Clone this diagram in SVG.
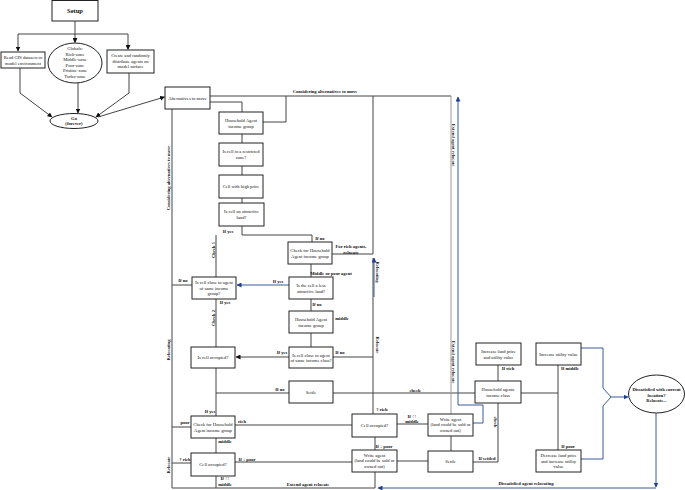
<svg xmlns="http://www.w3.org/2000/svg" width="685" height="490" viewBox="0 0 685 490">
<style>
.b{fill:#fff;stroke:#222;stroke-width:1}
.t{font-family:"Liberation Serif","Times New Roman",serif;font-size:4.6px;fill:#111;text-anchor:middle}
.l{font-family:"Liberation Serif","Times New Roman",serif;font-size:4.6px;font-weight:bold;fill:#111;text-anchor:middle}
.c{fill:none;stroke:#444;stroke-width:1}
.g{fill:none;stroke:#999;stroke-width:1}
.bl{fill:none;stroke:#3a5a9a;stroke-width:1}
</style>
<defs>
<marker id="a" viewBox="0 0 10 10" refX="9" refY="5" markerWidth="5" markerHeight="5" orient="auto"><path d="M0,0L10,5L0,10z" fill="#111"/></marker>
<marker id="ab" viewBox="0 0 10 10" refX="9" refY="5" markerWidth="5" markerHeight="5" orient="auto"><path d="M0,0L10,5L0,10z" fill="#1f3f8f"/></marker>
</defs>
<rect width="685" height="490" fill="#fff"/>
<g id="connectors">
<path class="c" d="M75,21V34M18,34H128"/>
<path class="c" d="M18,34V51" marker-end="url(#a)"/>
<path class="c" d="M75,34V42.5" marker-end="url(#a)"/>
<path class="c" d="M128,34V49.5" marker-end="url(#a)"/>
<path class="c" d="M20,68V93L52,117" marker-end="url(#a)"/>
<path class="c" d="M78,83V113" marker-end="url(#a)"/>
<path class="c" d="M129,73V93L96,117" marker-end="url(#a)"/>
<path class="c" d="M98,117L164.5,97" marker-end="url(#a)"/>
<path class="c" d="M210,96H451"/>
<path class="c" d="M210,102H242V112"/>
<path class="c" d="M263,122H286V96"/>
<path class="c" d="M242,134V143M242,166V175M242,198V203M242,226V235H312V242M216,235V277"/>
<path class="c" d="M172,109V488H375"/>
<path class="c" d="M332,254H373M373,96V254M373,258V414"/>
<path class="bl" d="M374,297V258" marker-end="url(#ab)"/>
<path class="c" d="M311,264V277"/>
<path class="bl" d="M289,285H237" marker-end="url(#ab)"/>
<path class="c" d="M192,285H172M216,299V347M311,299V311M311,333V347M333,357H373"/>
<path class="c" d="M289,357H236" marker-end="url(#a)"/>
<path class="c" d="M216,368V416M216,393H289M333,393H475"/>
<path class="c" d="M172,427H191M235,425H352M216,438V453M172,463H191M235,462H352M216,476V488"/>
<path class="c" d="M375,437V450M375,472V488M397,424H428M397,461H428M451,436V451"/>
<path class="g" d="M451,96V414"/>
<path class="bl" d="M473,423H483V405H458V97" marker-end="url(#ab)"/>
<path class="c" d="M498,365V381M498,403V462H473M521,393H558M558,365V450"/>
<path class="bl" d="M581,348H603V388L611,397M581,459H603V406L611,397"/>
<path class="bl" d="M611,397H628" marker-end="url(#ab)"/>
<path class="bl" d="M656,413V487" marker-end="url(#ab)"/>
<path class="bl" d="M656,488H378" marker-end="url(#ab)"/>
</g>
<g id="labels">
<text class="l" x="325" y="93">Considering alternatives to move</text>
<text class="l" x="228" y="233">If yes</text>
<text class="l" x="320" y="240">If no</text>
<text class="l" transform="translate(215,250) rotate(-90)">Check 1</text>
<text class="l" x="351" y="248">For rich agents,</text>
<text class="l" x="351" y="253.5">relocate</text>
<text class="l" x="331" y="275">Middle or poor agent</text>
<text class="l" x="278" y="283">If yes</text>
<text class="l" x="183" y="282">If no</text>
<text class="l" x="225" y="304">If yes</text>
<text class="l" transform="translate(215,318) rotate(-90)">Check 2</text>
<text class="l" x="317" y="306">If no</text>
<text class="l" x="342" y="320">middle</text>
<text class="l" x="340" y="354">If no</text>
<text class="l" x="282" y="354">If yes</text>
<text class="l" x="280" y="391">If no</text>
<text class="l" x="415" y="392">check</text>
<text class="l" x="210" y="413">If yes</text>
<text class="l" x="185" y="424">poor</text>
<text class="l" x="242" y="423">rich</text>
<text class="l" x="225" y="443">middle</text>
<text class="l" x="185" y="461">? rich</text>
<text class="l" x="247" y="461">If ↓ poor</text>
<text class="l" x="225" y="480">If ↑↑</text>
<text class="l" x="225" y="485.5">middle</text>
<text class="l" x="308" y="486">Extend agent relocate</text>
<text class="l" x="382" y="411">? rich</text>
<text class="l" x="412" y="418">If ↑↑</text>
<text class="l" x="412" y="423">middle</text>
<text class="l" x="384" y="448">If ↓ poor</text>
<text class="l" x="487" y="460">If settled</text>
<text class="l" transform="translate(494,422) rotate(90)">check</text>
<text class="l" x="508" y="370">If rich</text>
<text class="l" x="570" y="370">If middle</text>
<text class="l" x="568" y="448">If poor</text>
<text class="l" x="526" y="485">Dissatisfied agent relocating</text>
<text class="l" transform="translate(452,145) rotate(90)">Extend agent relocate</text>
<text class="l" transform="translate(452,362) rotate(90)">Extend agent relocate</text>
<text class="l" transform="translate(376,272) rotate(90)">Relocating</text>
<text class="l" transform="translate(376,345) rotate(90)">Relocate</text>
<text class="l" transform="translate(170,178) rotate(-90)">Considering alternatives to move</text>
<text class="l" transform="translate(170,350) rotate(-90)">Relocating</text>
<text class="l" transform="translate(170,465) rotate(-90)">Relocate</text>
</g>
<g id="setup"><rect class="b" x="52" y="0.5" width="46" height="20.5"/><text class="l" x="75" y="13" style="font-size:6.5px">Setup</text></g>
<g id="gis"><rect class="b" x="1" y="52" width="44" height="16"/><text class="t" x="23" y="59">Read GIS datasets to</text><text class="t" x="23" y="64.5">model environment</text></g>
<g id="globals"><ellipse class="b" cx="75" cy="63" rx="27" ry="20"/><text class="t" x="75" y="50">Globals:</text><text class="t" x="75" y="55.5">Rich-zone</text><text class="t" x="75" y="61">Middle-zone</text><text class="t" x="75" y="66.5">Poor-zone</text><text class="t" x="75" y="72">Pristine-zone</text><text class="t" x="75" y="77.5">Turbo-zone</text></g>
<g id="create"><rect class="b" x="107" y="50" width="47" height="23"/><text class="t" x="130.5" y="57">Create and randomly</text><text class="t" x="130.5" y="62.5">distribute agents on</text><text class="t" x="130.5" y="68">model surface</text></g>
<g id="go"><ellipse class="b" cx="74" cy="121" rx="24" ry="7.5"/><text class="l" x="74" y="119.5">Go</text><text class="l" x="74" y="125">(forever)</text></g>
<g id="alt"><rect class="b" x="165" y="87" width="45" height="22"/><text class="t" x="187.5" y="99.5">Alternatives to move</text></g>
<g id="hh1"><rect class="b" x="219" y="112" width="44" height="22"/><text class="t" x="241" y="122">Household Agent</text><text class="t" x="241" y="127.5">income group</text></g>
<g id="restricted"><rect class="b" x="219" y="143" width="44" height="23"/><text class="t" x="241" y="153">Is cell in a restricted</text><text class="t" x="241" y="158.5">zone?</text></g>
<g id="highprice"><rect class="b" x="219" y="175" width="44" height="23"/><text class="t" x="241" y="188">Cell with high price</text></g>
<g id="attractive"><rect class="b" x="219" y="203" width="45" height="23"/><text class="t" x="241.5" y="213">Is cell on attractive</text><text class="t" x="241.5" y="218.5">land?</text></g>
<g id="check1"><rect class="b" x="288" y="242" width="44" height="22"/><text class="t" x="310" y="252">Check for Household</text><text class="t" x="310" y="257.5">Agent income group</text></g>
<g id="lessattr"><rect class="b" x="289" y="277" width="44" height="22"/><text class="t" x="311" y="287">Is the cell a less</text><text class="t" x="311" y="292.5">attractive land?</text></g>
<g id="closegroup"><rect class="b" x="192" y="277" width="44" height="22"/><text class="t" x="214" y="284">Is cell close to agent</text><text class="t" x="214" y="289.5">of same income</text><text class="t" x="214" y="295">group?</text></g>
<g id="hh2"><rect class="b" x="289" y="311" width="44" height="22"/><text class="t" x="311" y="321">Household Agent</text><text class="t" x="311" y="326.5">income group</text></g>
<g id="closeclass"><rect class="b" x="289" y="347" width="44" height="21"/><text class="t" x="311" y="356.5">Is cell close to agent</text><text class="t" x="311" y="362">of same income class?</text></g>
<g id="occupied1"><rect class="b" x="191" y="347" width="44" height="21"/><text class="t" x="213" y="359">Is cell occupied?</text></g>
<g id="settle1"><rect class="b" x="289" y="381" width="44" height="22"/><text class="t" x="311" y="393.5">Settle</text></g>
<g id="check2"><rect class="b" x="191" y="416" width="44" height="22"/><text class="t" x="213" y="426">Check for Household</text><text class="t" x="213" y="431.5">Agent income group</text></g>
<g id="occupied2"><rect class="b" x="191" y="453" width="44" height="23"/><text class="t" x="213" y="466">Cell occupied?</text></g>
<g id="occupied3"><rect class="b" x="352" y="414" width="45" height="23"/><text class="t" x="374.5" y="427">Cell occupied?</text></g>
<g id="write1"><rect class="b" x="352" y="450" width="45" height="22"/><text class="t" x="374.5" y="456.5">Write agent</text><text class="t" x="374.5" y="462">(land could be sold or</text><text class="t" x="374.5" y="467.5">owned out)</text></g>
<g id="write2"><rect class="b" x="428" y="414" width="45" height="22"/><text class="t" x="450.5" y="420.5">Write agent</text><text class="t" x="450.5" y="426">(land could be sold or</text><text class="t" x="450.5" y="431.5">owned out)</text></g>
<g id="settle2"><rect class="b" x="428" y="451" width="45" height="21"/><text class="t" x="450.5" y="463">Settle</text></g>
<g id="hhclass"><rect class="b" x="475" y="381" width="46" height="22"/><text class="t" x="498" y="391">Household agents</text><text class="t" x="498" y="396.5">income class</text></g>
<g id="incland"><rect class="b" x="476" y="343" width="45" height="22"/><text class="t" x="498.5" y="353">Increase land price</text><text class="t" x="498.5" y="358.5">and utility value</text></g>
<g id="incutil"><rect class="b" x="536" y="343" width="45" height="22"/><text class="t" x="558.5" y="355.5">Increase utility value</text></g>
<g id="decland"><rect class="b" x="536" y="450" width="45" height="22"/><text class="t" x="558.5" y="457">Decrease land price</text><text class="t" x="558.5" y="462.5">and increase utility</text><text class="t" x="558.5" y="468">value</text></g>
<g id="dissat"><ellipse class="b" cx="656.5" cy="394" rx="28" ry="19"/><text class="l" x="656.5" y="391">Dissatisfied with current</text><text class="l" x="656.5" y="396.5">location?</text><text class="l" x="656.5" y="402">Relocate...</text></g>
</svg>
